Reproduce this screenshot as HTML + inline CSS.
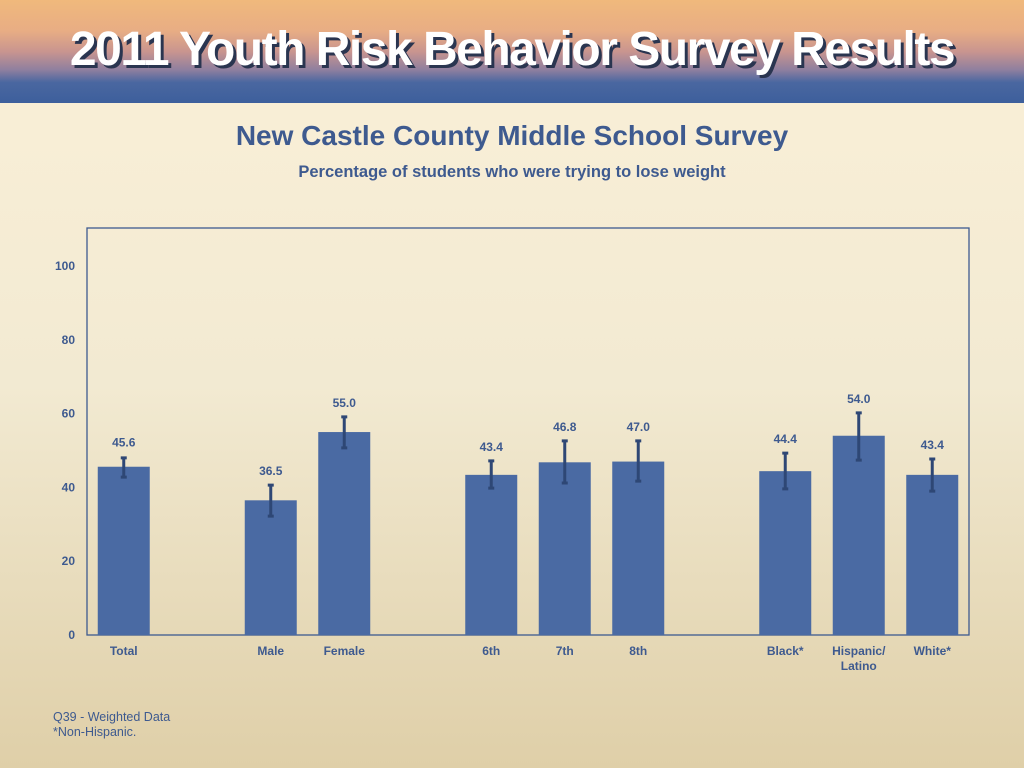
<!DOCTYPE html>
<html><head><meta charset="utf-8"><style>
body{margin:0;width:1024px;height:768px;overflow:hidden;font-family:"Liberation Sans",sans-serif;background:linear-gradient(#fbf0d8 0%,#f2ead2 50%,#dfcfa8 100%);position:relative}
#hdr{position:absolute;left:0;top:0;width:1024px;height:103px;background:linear-gradient(#f0b97c 0%,#e8ad84 30%,#c9958f 50%,#8e7f9f 68%,#4a67a0 80%,#3d5f9c 100%)}
#hdr .t{position:absolute;left:0;width:1024px;top:22px;text-align:center;color:#fff;font-size:48px;font-weight:bold;letter-spacing:-1.5px;text-shadow:3px 3px 0 #2a3550}
.title{position:absolute;left:0;width:1024px;text-align:center;color:#3e5a8f;font-weight:bold}
.foot{position:absolute;left:53px;top:710px;font-size:12.5px;color:#3e5a8f;line-height:15px}
</style></head><body>
<div id="hdr"><div class="t">2011 Youth Risk Behavior Survey Results</div></div>
<div class="title" style="top:120px;font-size:28px;letter-spacing:0px">New Castle County Middle School Survey</div>
<div class="title" style="top:163px;font-size:16.5px">Percentage of students who were trying to lose weight</div>
<svg id="c" width="1024" height="768" style="position:absolute;left:0;top:0"></svg>
<div class="foot">Q39 - Weighted Data<br>*Non-Hispanic.</div>
<script>
const categories=["Total","","Male","Female","","6th","7th","8th","","Black*","Hispanic/\nLatino","White*"];
const values=[45.6,null,36.5,55.0,null,43.4,46.8,47.0,null,44.4,54.0,43.4];
const errLow=[42.8,null,32.2,50.7,null,39.8,41.2,41.7,null,39.6,47.4,39.0];
const errHigh=[48.0,null,40.6,59.1,null,47.2,52.6,52.6,null,49.3,60.2,47.7];
const yTicks=[0,20,40,60,80,100];
const svg=document.getElementById('c');const NS='http://www.w3.org/2000/svg';
const x0=87,x1=969,yTop=228,y0=635;
const slot=(x1-x0)/categories.length;
const X=i=>x0+slot*(i+0.5);
const Y=v=>y0-v*3.69;
function mk(t,a){const e=document.createElementNS(NS,t);for(const k in a)e.setAttribute(k,a[k]);svg.appendChild(e);return e;}
let f=mk('rect',{x:x0,y:yTop,width:x1-x0,height:y0-yTop,fill:'none',stroke:'#3e5a8f','stroke-width':1.3});


yTicks.forEach(t=>{let e=mk('text',{x:75,y:Y(t)+4,'text-anchor':'end','font-size':12,'font-weight':'bold',fill:'#3e5a8f'});e.textContent=t;

});
categories.forEach((c,i)=>{
 if(values[i]==null)return;
 const cx=X(i);
 let b=mk('rect',{x:cx-26,y:Y(values[i]),width:52,height:y0-Y(values[i]),fill:'#4a6aa3'});
 
 
 let eb=mk('path',{d:`M${cx},${Y(errHigh[i])}V${Y(errLow[i])}M${cx-3},${Y(errHigh[i])}h6M${cx-3},${Y(errLow[i])}h6`,stroke:'#2e4775','stroke-width':3,fill:'none'});
 
 
 let v=mk('text',{x:cx,y:Math.min(Y(values[i])-20,Y(errHigh[i])-10),'text-anchor':'middle','font-size':12,'font-weight':'bold',fill:'#3e5a8f'});
 v.textContent=values[i].toFixed(1);
 
 
 c.split('\n').forEach((ln,k)=>{let t=mk('text',{x:cx,y:655+k*15,'text-anchor':'middle','font-size':12,'font-weight':'bold',fill:'#3e5a8f'});t.textContent=ln;
 
 });
});
</script>
</body></html>
